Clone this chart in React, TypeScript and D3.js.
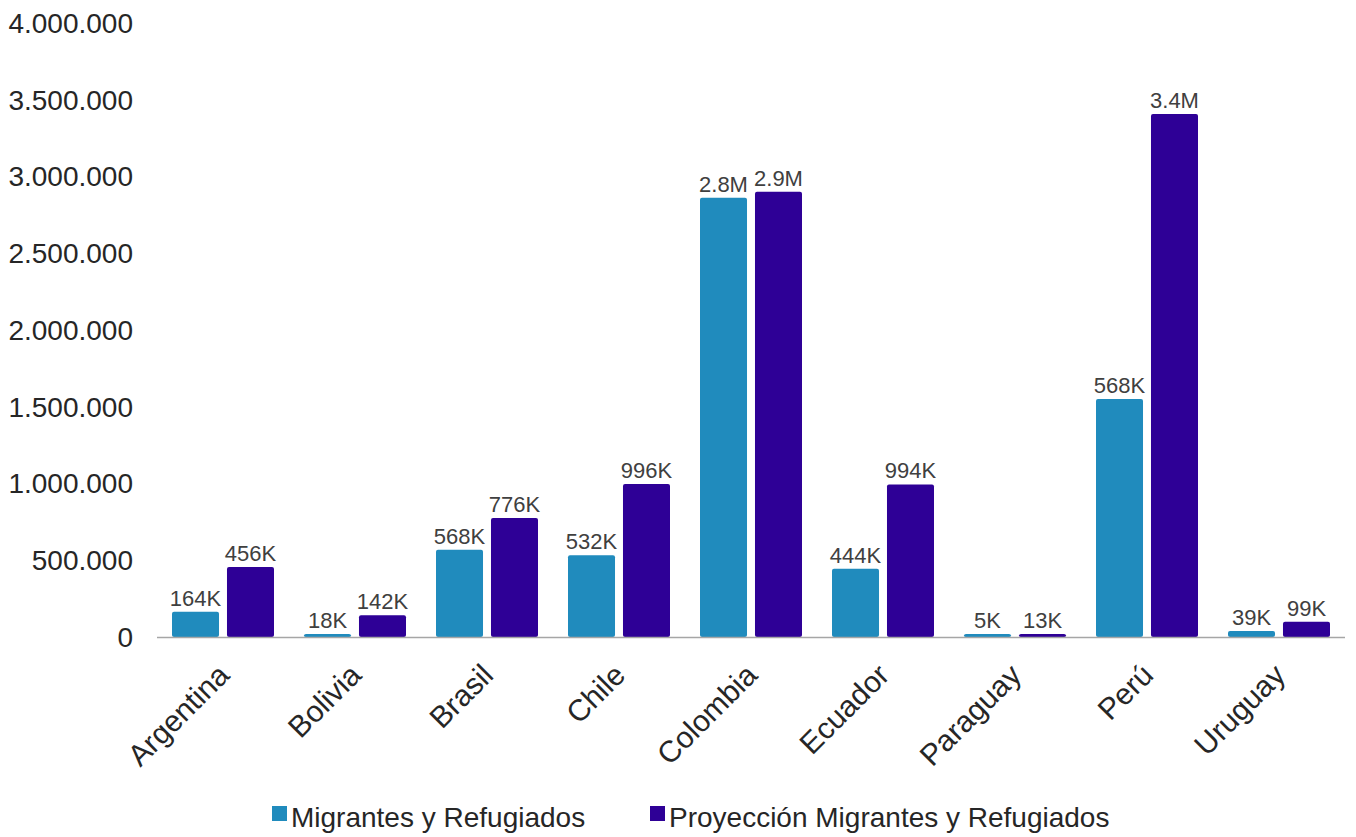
import React from "react";
import * as d3 from "d3";

const categories = ["Argentina", "Bolivia", "Brasil", "Chile", "Colombia", "Ecuador", "Paraguay", "Perú", "Uruguay"];
const seriesNames = ["Migrantes y Refugiados", "Proyección Migrantes y Refugiados"];
const migrantes = [164000, 18000, 568000, 532000, 2862000, 444000, 5000, 1550000, 39000];
const proyeccion = [456000, 142000, 776000, 996000, 2901000, 994000, 13000, 3407000, 99000];
const migrantesLabels = ["164K", "18K", "568K", "532K", "2.8M", "444K", "5K", "568K", "39K"];
const proyeccionLabels = ["456K", "142K", "776K", "996K", "2.9M", "994K", "13K", "3.4M", "99K"];
const yTicks = [0, 500000, 1000000, 1500000, 2000000, 2500000, 3000000, 3500000, 4000000];
const colors = ["#208bbd", "#2e0096"];

const W = 1356;
const H = 837;
const FONT = "'Liberation Sans', Arial, sans-serif";

export default function App() {
  const x0 = d3.scaleBand<string>().domain(categories).range([157, 1345]).paddingInner(0).paddingOuter(0);
  const x1 = d3.scaleBand<string>().domain(seriesNames).range([15, x0.bandwidth() - 15]).paddingInner(0.145).paddingOuter(0);
  const y = d3.scaleLinear().domain([0, 4000000]).range([637, 23]);
  const fmt = (v: number) => d3.format(",")(v).replace(/,/g, ".");
  const series = [
    { name: seriesNames[0], values: migrantes, labels: migrantesLabels, color: colors[0] },
    { name: seriesNames[1], values: proyeccion, labels: proyeccionLabels, color: colors[1] },
  ];
  const legendX = [272, 650];

  return (
    <svg width={W} height={H} style={{ position: "absolute", left: 0, top: 0, background: "#fff" }} fontFamily={FONT}>
      {yTicks.map((t) => (
        <text key={t} x={133} y={y(t)} dy="0.35em" textAnchor="end" fontSize={28} fill="#262626">
          {fmt(t)}
        </text>
      ))}
      {series.map((s) =>
        categories.map((c, i) => {
          const bx = (x0(c) as number) + (x1(s.name) as number);
          const by = Math.min(y(s.values[i]), y(0) - 3);
          const h = y(0) - by;
          return (
            <g key={s.name + c}>
              <rect x={bx} y={by} width={x1.bandwidth()} height={h} fill={s.color} rx={2} ry={2} />
              <text x={bx + x1.bandwidth() / 2} y={by - 6} textAnchor="middle" fontSize={22} fill="#404040">
                {s.labels[i]}
              </text>
            </g>
          );
        })
      )}
      <line x1={157} x2={1345} y1={y(0) + 0.5} y2={y(0) + 0.5} stroke="#a6a6a6" strokeWidth={1.5} />
      {categories.map((c) => {
        const cx = (x0(c) as number) + x0.bandwidth() / 2;
        return (
          <text key={c} transform={`translate(${cx + 8},${677}) rotate(-45)`} textAnchor="end" fontSize={30} fill="#262626">
            {c}
          </text>
        );
      })}
      {series.map((s, i) => (
        <g key={s.name}>
          <rect x={legendX[i]} y={806} width={15} height={15} fill={s.color} />
          <text x={legendX[i] + 19} y={827} fontSize={28} fill="#262626">
            {s.name}
          </text>
        </g>
      ))}
    </svg>
  );
}
